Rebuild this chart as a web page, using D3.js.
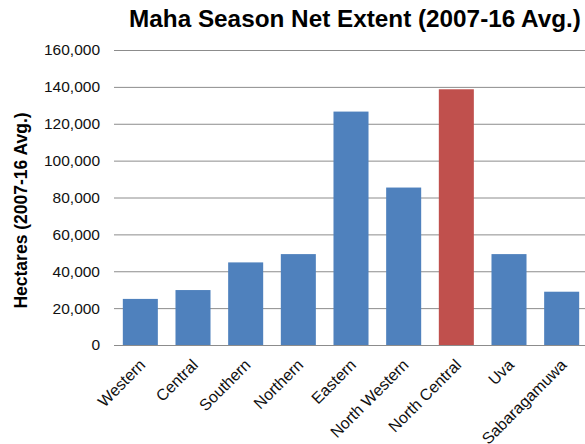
<!DOCTYPE html>
<html>
<head>
<meta charset="utf-8">
<script src="https://cdn.jsdelivr.net/npm/d3@7"></script>
<style>
  body { margin: 0; background: #fff; }
  svg { font-family: "Liberation Sans", Arial, sans-serif; }
  .grid line { stroke: #8c8c8c; stroke-width: 1; }
  .grid .domain { display: none; }
</style>
</head>
<body>
<div id="chart-area"></div>
<script>
// Maha season net extent by province

const WIDTH = 585;
const HEIGHT = 444;

const provinces = ["Western", "Central", "Southern", "Northern", "Eastern",
  "North Western", "North Central", "Uva", "Sabaragamuwa"];
const hectares = [25000, 29800, 44800, 49300, 126600, 85400, 138700, 49300, 28900];
const highlight = "North Central";
const yTicks = [0, 20000, 40000, 60000, 80000, 100000, 120000, 140000, 160000];

const margin = {top: 50, right: -3, bottom: 99, left: 114};

let svg = d3.select("#chart-area").append("svg")
  .attr("width", WIDTH)
  .attr("height", HEIGHT);

let x = d3.scaleBand()
  .domain(provinces)
  .range([margin.left, WIDTH - margin.right])
  .paddingInner(0.335)
  .paddingOuter(0.1675);

let y = d3.scaleLinear()
  .domain([0, 160000])
  .range([HEIGHT - margin.bottom, margin.top]);

// gridlines
svg.append("g")
  .attr("class", "grid")
  .attr("transform", `translate(${margin.left},0)`)
  .call(d3.axisRight(y).tickValues(yTicks).tickSize(WIDTH - margin.left).tickFormat(""))
  .selectAll(".tick line").attr("stroke", "#8c8c8c");

// y tick labels
svg.append("g")
  .selectAll("text")
  .data(yTicks)
  .enter().append("text")
  .attr("x", 100)
  .attr("y", d => y(d))
  .attr("dy", "0.35em")
  .attr("text-anchor", "end")
  .style("font-size", "15.5px")
  .style("fill", "#111")
  .text(d => d3.format(",")(d));

// bars
svg.selectAll(".bar")
  .data(provinces)
  .enter().append("rect")
  .attr("class", "bar")
  .attr("x", d => x(d))
  .attr("width", x.bandwidth())
  .attr("y", (d, i) => y(hectares[i]))
  .attr("height", (d, i) => y(0) - y(hectares[i]))
  .style("fill", d => d === highlight ? "#C0504D" : "#4F81BD");

// x labels, rotated (the last one runs off the bottom, as in the original)
svg.selectAll(".x-label")
  .data(provinces)
  .enter().append("text")
  .attr("class", "x-label")
  .attr("text-anchor", "end")
  .attr("transform", d => `translate(${x(d) + x.bandwidth() / 2 + 6},${y(0) + 21}) rotate(-45)`)
  .style("font-size", "16px")
  .style("fill", "#111")
  .text(d => d);

// title
svg.append("text")
  .attr("x", 355)
  .attr("y", 27)
  .attr("text-anchor", "middle")
  .style("font-size", "24.3px")
  .style("font-weight", "bold")
  .text("Maha Season Net Extent (2007-16 Avg.)");

// y axis title
svg.append("text")
  .attr("transform", `translate(27,${(y(0) + y(160000)) / 2 + 13}) rotate(-90)`)
  .attr("text-anchor", "middle")
  .style("font-size", "17.5px")
  .style("font-weight", "bold")
  .text("Hectares (2007-16 Avg.)");
</script>
</body>
</html>
